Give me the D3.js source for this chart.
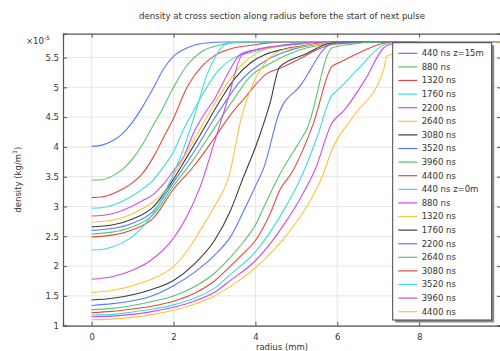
<!DOCTYPE html>
<html>
<head>
<meta charset="utf-8">
<script src="https://cdn.jsdelivr.net/npm/d3@7"></script>
<style>
  html, body { margin: 0; padding: 0; background: #fff; }
  svg { display: block; }
  text { font-family: "DejaVu Sans", sans-serif; fill: #333; }
</style>
</head>
<body>
<svg id="chart" width="500" height="351"></svg>
<script>
// Density profiles along the radius (values in units of 1e-5 kg/m^3), [radius mm, density]
const s440z15 = [[0,4.01],[0.25,4.03],[0.5,4.10],[0.75,4.22],[1.0,4.42],[1.25,4.68],[1.5,4.98],[1.75,5.30],[2.0,5.52],[2.33,5.66],[2.73,5.74],[3.3,5.76],[10,5.76]];
const s880z15 = [[0,3.44],[0.25,3.45],[0.5,3.51],[0.75,3.62],[1.0,3.80],[1.25,4.05],[1.5,4.36],[1.67,4.56],[2.0,5.00],[2.33,5.37],[2.69,5.60],[3.14,5.71],[3.5,5.75],[4.0,5.76],[10,5.76]];
const s1320z15 = [[0,3.15],[0.25,3.16],[0.5,3.21],[0.75,3.29],[1.0,3.40],[1.25,3.56],[1.5,3.82],[1.75,4.15],[2.0,4.48],[2.33,5.00],[2.69,5.35],[3.02,5.54],[3.42,5.65],[3.95,5.71],[4.4,5.75],[5.0,5.76],[10,5.76]];
const s1760z15 = [[0,2.97],[0.25,2.98],[0.5,3.02],[0.75,3.09],[1.0,3.18],[1.25,3.30],[1.5,3.44],[1.75,3.66],[2.0,3.92],[2.25,4.30],[2.5,4.62],[2.65,4.81],[3.1,5.29],[3.46,5.49],[3.87,5.58],[4.36,5.66],[5.0,5.72],[5.5,5.75],[6.0,5.76],[10,5.76]];
const s2200z15 = [[0,2.84],[0.5,2.88],[1.0,3.01],[1.25,3.10],[1.5,3.20],[1.75,3.37],[2.0,3.60],[2.25,3.84],[2.5,4.25],[2.75,4.55],[3.0,4.80],[3.38,5.30],[3.63,5.55],[4.0,5.63],[4.5,5.69],[5.0,5.73],[5.8,5.76],[10,5.76]];
const s2640z15 = [[0,2.74],[0.5,2.77],[1.0,2.88],[1.5,3.08],[1.75,3.24],[2.0,3.52],[2.5,4.12],[3.0,4.72],[3.3,5.05],[3.6,5.33],[4.03,5.57],[4.52,5.69],[5.2,5.74],[6.0,5.76],[10,5.76]];
const s3080z15 = [[0,2.66],[0.5,2.69],[1.0,2.79],[1.5,2.99],[2.0,3.46],[2.3,3.80],[2.65,4.20],[3.14,4.78],[3.5,5.15],[3.9,5.42],[4.24,5.55],[4.69,5.64],[5.3,5.71],[5.85,5.76],[10,5.76]];
const s3520z15 = [[0,2.60],[0.5,2.63],[1.0,2.72],[1.5,2.92],[2.0,3.41],[2.5,3.92],[3.0,4.48],[3.3,4.79],[3.6,5.08],[4.28,5.46],[4.7,5.59],[5.09,5.67],[5.85,5.75],[6.3,5.76],[10,5.76]];
const s3960z15 = [[0,2.54],[0.5,2.57],[1.0,2.66],[1.5,2.86],[2.0,3.35],[2.5,3.80],[3.0,4.32],[3.46,4.79],[3.9,5.20],[4.28,5.37],[4.7,5.52],[5.09,5.63],[5.6,5.71],[6.0,5.75],[6.5,5.76],[10,5.76]];
const s4400z15 = [[0,2.49],[0.5,2.52],[1.0,2.61],[1.5,2.80],[2.0,3.29],[2.5,3.68],[3.0,4.15],[3.46,4.60],[3.71,4.80],[4.28,5.23],[4.6,5.32],[5.17,5.51],[5.5,5.63],[5.87,5.72],[6.5,5.75],[7.0,5.76],[10,5.76]];
const s440z0 = [[0,2.27],[0.25,2.28],[0.5,2.32],[0.75,2.39],[1.0,2.50],[1.25,2.66],[1.5,2.88],[1.75,3.18],[2.0,3.55],[2.25,3.98],[2.57,4.65],[2.81,5.20],[2.94,5.40],[3.1,5.60],[3.26,5.72],[3.6,5.76],[10,5.76]];
const s880z0 = [[0,1.78],[0.5,1.82],[1.0,1.93],[1.43,2.09],[2.0,2.47],[2.3,2.80],[2.65,3.33],[3.0,4.08],[3.35,4.85],[3.67,5.54],[4.0,5.63],[4.5,5.69],[5.0,5.73],[5.8,5.76],[10,5.76]];
const s1320z0 = [[0,1.56],[0.5,1.59],[1.0,1.67],[1.43,1.77],[2.0,1.99],[2.4,2.32],[2.65,2.60],[3.0,3.00],[3.35,3.50],[3.67,4.52],[4.56,5.60],[5.09,5.68],[5.6,5.73],[6.3,5.76],[10,5.76]];
const s1760z0 = [[0,1.43],[0.5,1.46],[1.0,1.52],[1.43,1.60],[2.0,1.76],[2.5,2.03],[3.0,2.43],[3.39,2.93],[3.7,3.48],[4.03,4.05],[4.36,4.74],[4.59,5.34],[5.2,5.55],[5.83,5.74],[6.2,5.76],[10,5.76]];
const s2200z0 = [[0,1.34],[0.5,1.37],[1.0,1.42],[1.43,1.49],[2.0,1.67],[2.5,1.89],[3.06,2.22],[3.39,2.49],[3.71,2.92],[4.0,3.34],[4.2,3.64],[4.59,4.59],[5.09,5.02],[5.83,5.72],[6.2,5.76],[10,5.76]];
const s2640z0 = [[0,1.27],[0.5,1.29],[1.0,1.34],[1.5,1.41],[2.0,1.50],[2.5,1.65],[3.0,1.88],[3.39,2.15],[3.7,2.40],[4.0,2.69],[4.24,3.04],[4.55,3.48],[5.09,4.10],[5.26,4.30],[5.87,5.66],[6.3,5.72],[7.0,5.76],[10,5.76]];
const s3080z0 = [[0,1.22],[0.5,1.24],[1.0,1.28],[1.5,1.33],[2.0,1.41],[2.5,1.54],[3.0,1.75],[3.39,2.00],[3.7,2.21],[4.0,2.43],[4.36,2.88],[4.6,3.28],[4.89,3.57],[5.42,4.40],[5.87,5.35],[6.07,5.42],[6.6,5.60],[7.13,5.74],[7.5,5.76],[10,5.76]];
const s3520z0 = [[0,1.18],[0.5,1.19],[1.0,1.23],[1.5,1.28],[2.0,1.35],[2.5,1.46],[3.0,1.63],[3.39,1.86],[4.0,2.24],[4.6,2.83],[5.17,3.57],[5.5,4.15],[5.87,4.87],[5.99,4.94],[6.5,5.30],[7.13,5.71],[7.5,5.76],[10,5.76]];
const s3960z0 = [[0,1.15],[0.5,1.16],[1.0,1.19],[1.5,1.24],[2.0,1.31],[2.5,1.41],[3.0,1.56],[3.39,1.76],[4.0,2.09],[4.68,2.68],[5.1,3.14],[5.46,3.62],[5.87,4.40],[6.15,4.60],[6.7,5.15],[7.13,5.66],[7.4,5.74],[7.8,5.76],[10,5.76]];
const s4400z0 = [[0,1.10],[0.5,1.11],[1.0,1.14],[1.5,1.19],[2.0,1.26],[2.5,1.36],[3.0,1.50],[3.39,1.66],[4.0,1.97],[4.85,2.60],[5.3,3.05],[5.66,3.55],[5.87,3.95],[6.39,4.51],[7.13,5.29],[7.21,5.52],[7.35,5.56],[7.6,5.70],[8.0,5.76],[10,5.76]];

const seriesData = [s440z15, s880z15, s1320z15, s1760z15, s2200z15, s2640z15, s3080z15, s3520z15, s3960z15, s4400z15,
                    s440z0, s880z0, s1320z0, s1760z0, s2200z0, s2640z0, s3080z0, s3520z0, s3960z0, s4400z0];
const seriesLabels = ["440 ns z=15m", "880 ns", "1320 ns", "1760 ns", "2200 ns", "2640 ns", "3080 ns", "3520 ns", "3960 ns", "4400 ns",
                      "440 ns z=0m", "880 ns", "1320 ns", "1760 ns", "2200 ns", "2640 ns", "3080 ns", "3520 ns", "3960 ns", "4400 ns"];
const palette = ["#5878ff", "#5ac46a", "#e24a40", "#40dbe0", "#d24be2", "#ffc23c", "#3c3c3c"];

const xTicks = [0, 2, 4, 6, 8];
const yTicks = [1, 1.5, 2, 2.5, 3, 3.5, 4, 4.5, 5, 5.5];
const xDomain = [-0.7, 10];
const yDomain = [1, 5.9];

const titleText = "density at cross section along radius before the start of next pulse";
const xLabel = "radius (mm)";

const svg = d3.select("#chart");
const plotL = 63, plotR = 501, plotT = 33.7, plotB = 325.7;

const x = d3.scaleLinear().domain(xDomain).range([plotL, plotR]);
const y = d3.scaleLinear().domain(yDomain).range([plotB, plotT]);

// grid
const grid = svg.append("g");
grid.selectAll("line.gx").data(xTicks).join("line")
  .attr("x1", d => x(d)).attr("x2", d => x(d)).attr("y1", plotT).attr("y2", plotB)
  .attr("stroke", "#e6e6e6").attr("stroke-width", 1);
grid.selectAll("line.gy").data(yTicks).join("line")
  .attr("x1", plotL).attr("x2", plotR).attr("y1", d => y(d)).attr("y2", d => y(d))
  .attr("stroke", "#e6e6e6").attr("stroke-width", 1);

// curves
svg.append("defs").append("clipPath").attr("id", "plotclip")
  .append("rect").attr("x", plotL).attr("y", plotT).attr("width", plotR - plotL).attr("height", plotB - plotT);

const line = d3.line().curve(d3.curveMonotoneX).x(d => x(d[0])).y(d => y(d[1]));
svg.append("g").attr("clip-path", "url(#plotclip)")
  .selectAll("path").data(seriesData).join("path")
  .attr("d", line)
  .attr("fill", "none")
  .attr("stroke", (d, i) => palette[i % palette.length])
  .attr("stroke-width", 1.1)
  .attr("stroke-linejoin", "round");

// axes with inward ticks
const fmt = d => d3.format("~g")(d);
const axB = svg.append("g").attr("transform", `translate(0,${plotB})`)
  .call(d3.axisBottom(x).tickValues(xTicks).tickSize(-4).tickPadding(8).tickFormat(fmt));
const axT = svg.append("g").attr("transform", `translate(0,${plotT})`)
  .call(d3.axisTop(x).tickValues(xTicks).tickSize(-4).tickFormat(""));
const axL = svg.append("g").attr("transform", `translate(${plotL},0)`)
  .call(d3.axisLeft(y).tickValues(yTicks).tickSize(-4).tickPadding(4).tickFormat(fmt));
const axR = svg.append("g").attr("transform", `translate(${plotR},0)`)
  .call(d3.axisRight(y).tickValues(yTicks).tickSize(-4).tickFormat(""));
[axB, axT, axL, axR].forEach(g => {
  g.select(".domain").attr("stroke", "#555").attr("stroke-width", 1.2);
  g.selectAll(".tick line").attr("stroke", "#555");
  g.selectAll(".tick text").attr("font-size", 8.5).attr("fill", "#333")
    .attr("font-family", "DejaVu Sans, sans-serif");
});

// exponent marker
const expo = svg.append("text").attr("x", 26).attr("y", 43.5).attr("font-size", 8.5);
expo.append("tspan").text("\u00d710");
expo.append("tspan").attr("dy", -4).attr("font-size", 6).text("-5");

// title and axis labels
svg.append("text").attr("x", (plotL + plotR) / 2).attr("y", 19).attr("text-anchor", "middle")
  .attr("font-size", 8.6).text(titleText);
svg.append("text").attr("x", (plotL + plotR) / 2).attr("y", 349.5).attr("text-anchor", "middle")
  .attr("font-size", 8.5).text(xLabel);
const yl = svg.append("text").attr("transform", `translate(20.5,${(plotT + plotB) / 2}) rotate(-90)`)
  .attr("text-anchor", "middle").attr("font-size", 8.5);
yl.append("tspan").text("density (kg/m");
yl.append("tspan").attr("dy", -3.5).attr("font-size", 6).text("3");
yl.append("tspan").attr("dy", 3.5).text(")");

// legend
const lg = svg.append("g");
const lgX = 392.7, lgY = 42.7, lgW = 99, lgH = 277.3;
lg.append("rect").attr("x", lgX + 2.5).attr("y", lgY + 2.5).attr("width", lgW).attr("height", lgH).attr("fill", "#8a8a8a");
lg.append("rect").attr("x", lgX).attr("y", lgY).attr("width", lgW).attr("height", lgH)
  .attr("fill", "#fff").attr("stroke", "#444").attr("stroke-width", 1);
const items = lg.selectAll("g.item").data(seriesLabels).join("g")
  .attr("transform", (d, i) => `translate(0,${53.3 + 13.6 * i})`);
items.append("line").attr("x1", 398.3).attr("x2", 417.3).attr("y1", 0).attr("y2", 0)
  .attr("stroke", (d, i) => palette[i % palette.length]).attr("stroke-width", 1.2);
items.append("text").attr("x", 421.7).attr("dy", "0.35em").attr("font-size", 8.5).text(d => d);
</script>
</body>
</html>
